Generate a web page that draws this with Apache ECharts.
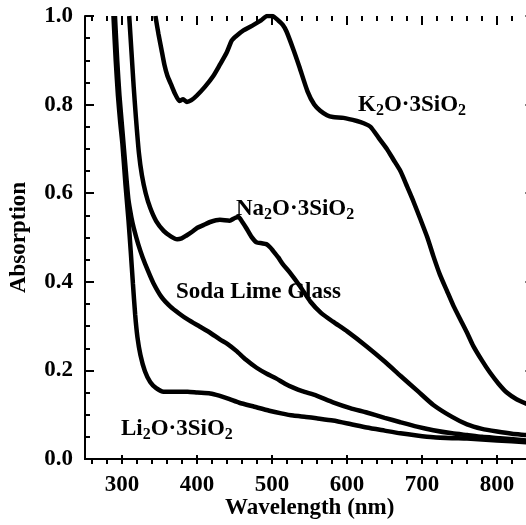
<!DOCTYPE html>
<html>
<head>
<meta charset="utf-8">
<script src="https://cdn.jsdelivr.net/npm/echarts@6/dist/echarts.min.js"></script>
<style>
    html, body { margin: 0; padding: 0; width: 526px; height: 525px; overflow: hidden; background: #fff; }
    #chart { width: 546px; height: 525px; }
</style>
</head>
<body>
<div id="chart"></div>
<script>
// [wavelength nm, absorption]
const k2o = [[344,1.0],[348,0.96],[352,0.925],[356,0.89],[360,0.865],[365,0.845],[370,0.825],[376,0.808],[381,0.812],[386,0.806],[392,0.81],[399,0.82],[410,0.84],[421,0.864],[430,0.89],[439,0.917],[446,0.945],[452,0.955],[462,0.968],[475,0.98],[485,0.99],[493,1.0],[500,1.0],[508,0.99],[514,0.98],[519,0.965],[528,0.925],[536,0.886],[547,0.83],[556,0.8],[564,0.786],[573,0.776],[581,0.772],[595,0.77],[613,0.763],[622,0.758],[631,0.75],[642,0.725],[653,0.7],[662,0.675],[671,0.65],[680,0.615],[688,0.583],[698,0.54],[707,0.5],[715,0.458],[724,0.415],[733,0.38],[742,0.345],[751,0.315],[760,0.285],[768,0.256],[780,0.222],[791,0.194],[802,0.17],[813,0.15],[826,0.135],[839,0.125],[850,0.118]]
const na2o = [[309,1.0],[312,0.92],[315,0.84],[318,0.77],[322,0.69],[326,0.64],[331,0.6],[337,0.567],[345,0.537],[355,0.515],[365,0.502],[373,0.496],[379,0.498],[385,0.504],[393,0.513],[400,0.522],[408,0.528],[417,0.535],[430,0.54],[443,0.538],[450,0.544],[455,0.546],[460,0.535],[465,0.522],[472,0.502],[479,0.489],[486,0.487],[492,0.485],[497,0.478],[501,0.47],[508,0.455],[514,0.44],[523,0.422],[537,0.39],[551,0.355],[565,0.33],[581,0.31],[600,0.288],[626,0.254],[650,0.22],[671,0.188],[695,0.152],[715,0.122],[740,0.095],[760,0.078],[780,0.068],[800,0.062],[820,0.057],[839,0.054],[850,0.052]]
const sodaLime = [[290,1.0],[293,0.9],[296,0.82],[300,0.74],[304,0.66],[308,0.585],[312,0.545],[315,0.522],[321,0.485],[327,0.455],[334,0.425],[341,0.398],[352,0.366],[364,0.344],[376,0.328],[387,0.315],[403,0.299],[417,0.285],[430,0.27],[440,0.26],[452,0.244],[465,0.224],[479,0.206],[492,0.193],[505,0.182],[517,0.17],[528,0.161],[540,0.153],[559,0.143],[581,0.128],[604,0.115],[626,0.105],[650,0.093],[671,0.083],[693,0.073],[715,0.065],[740,0.058],[760,0.054],[780,0.05],[804,0.047],[839,0.042],[850,0.041]]
const li2o = [[288,1.0],[291,0.9],[294,0.82],[297,0.76],[300,0.71],[304,0.62],[308,0.54],[311,0.47],[314,0.395],[317,0.325],[320,0.275],[324,0.235],[330,0.198],[337,0.174],[345,0.16],[355,0.152],[370,0.152],[387,0.152],[400,0.15],[417,0.148],[429,0.143],[443,0.135],[456,0.127],[476,0.118],[496,0.109],[512,0.103],[528,0.098],[545,0.095],[559,0.092],[581,0.087],[604,0.079],[626,0.071],[650,0.064],[671,0.058],[693,0.053],[715,0.049],[740,0.047],[760,0.046],[800,0.042],[839,0.038],[850,0.037]]

const xRange = [250, 850]
const xMajor = [300, 800, 100]   // labelled ticks
const xMinor = [260, 840, 20]
const yRange = [0, 1, 0.2]

const FONT = 'Liberation Serif'
const labelFont = { fontFamily: FONT, fontWeight: 'bold', fontSize: 23, color: '#000' }
const black = { color: '#000', width: 2 }

const chart = echarts.init(document.getElementById('chart'))

// plot box: x 84.5..534.5, y 16..464 (right frame falls just outside the picture)
const W = 546
const plotL = 84.5, plotR = 534.5, plotT = 16, plotB = 464
const gridTop = plotT, gridBottom = 525 - plotB
const pxPerNm = (plotR - plotL) / (xRange[1] - xRange[0])
const xAt = v => plotL + (v - xRange[0]) * pxPerNm

const tickAxis = (gridIndex, position, r, len, withLabels) => ({
    type: 'value', gridIndex, position,
    min: r[0], max: r[1], interval: r[2],
    axisLine: { show: false },
    axisTick: { inside: true, length: len, lineStyle: black },
    axisLabel: withLabels ? { ...labelFont, margin: 10 } : { show: false },
    splitLine: { show: false },
})

const frameX = (position, extra) => ({
    type: 'value', gridIndex: 0, position,
    min: xRange[0], max: xRange[1],
    axisLine: { lineStyle: black },
    axisTick: { show: false },
    axisLabel: { show: false },
    splitLine: { show: false },
    ...extra,
})

const frameY = (position, withLabels, extra) => ({
    type: 'value', gridIndex: 0, position,
    min: yRange[0], max: yRange[1], interval: yRange[2],
    axisLine: { show: true, lineStyle: black },
    axisTick: { inside: true, length: 9, lineStyle: black },
    minorTick: { show: true, splitNumber: 4, length: 5, lineStyle: black },
    axisLabel: withLabels ? { ...labelFont, margin: 12, formatter: v => v.toFixed(1) } : { show: false },
    splitLine: { show: false },
    minorSplitLine: { show: false },
    ...extra,
})

const hiddenY = gridIndex => ({ type: 'value', gridIndex, min: 0, max: 1, show: false })

const sub = { fontFamily: FONT, fontWeight: 'bold', fontSize: 16, fill: '#000', padding: [12, 0, 0, 0] }
const main = { fontFamily: FONT, fontWeight: 'bold', fontSize: 23, fill: '#000' }
const note = (x, y, text) => ({
    type: 'text', x, y,
    style: { text, rich: { m: main, s: sub }, ...main, verticalAlign: 'middle', align: 'left' },
})

const line = data => ({
    type: 'line', xAxisIndex: 0, yAxisIndex: 0,
    data, showSymbol: false, smooth: 0.2,
    lineStyle: { color: '#000', width: 4.5 },
    itemStyle: { color: '#000' },
})

chart.setOption({
    animation: false,
    backgroundColor: '#fff',
    grid: [
        { left: plotL, right: W - plotR, top: gridTop, bottom: gridBottom },
        { left: xAt(xMajor[0]), right: W - xAt(xMajor[1]), top: gridTop, bottom: gridBottom },
        { left: xAt(xMinor[0]), right: W - xAt(xMinor[1]), top: gridTop, bottom: gridBottom },
    ],
    xAxis: [
        frameX('bottom', {
            name: 'Wavelength (nm)', nameLocation: 'middle', nameGap: 38,
            nameTextStyle: labelFont,
        }),
        frameX('top'),
        tickAxis(1, 'bottom', xMajor, 9, true),
        tickAxis(1, 'top', xMajor, 9, false),
        tickAxis(2, 'bottom', xMinor, 5, false),
        tickAxis(2, 'top', xMinor, 5, false),
    ],
    yAxis: [
        frameY('left', true, {
            name: 'Absorption', nameLocation: 'middle', nameGap: 54,
            nameTextStyle: labelFont,
        }),
        frameY('right', false),
        hiddenY(1),
        hiddenY(2),
    ],
    series: [line(k2o), line(na2o), line(sodaLime), line(li2o)],
    graphic: [
        note(358, 105, '{m|K}{s|2}{m|O·3SiO}{s|2}'),
        note(236, 209, '{m|Na}{s|2}{m|O·3SiO}{s|2}'),
        note(176, 292, '{m|Soda Lime Glass}'),
        note(121, 429, '{m|Li}{s|2}{m|O·3SiO}{s|2}'),
    ],
})
</script>
</body>
</html>
